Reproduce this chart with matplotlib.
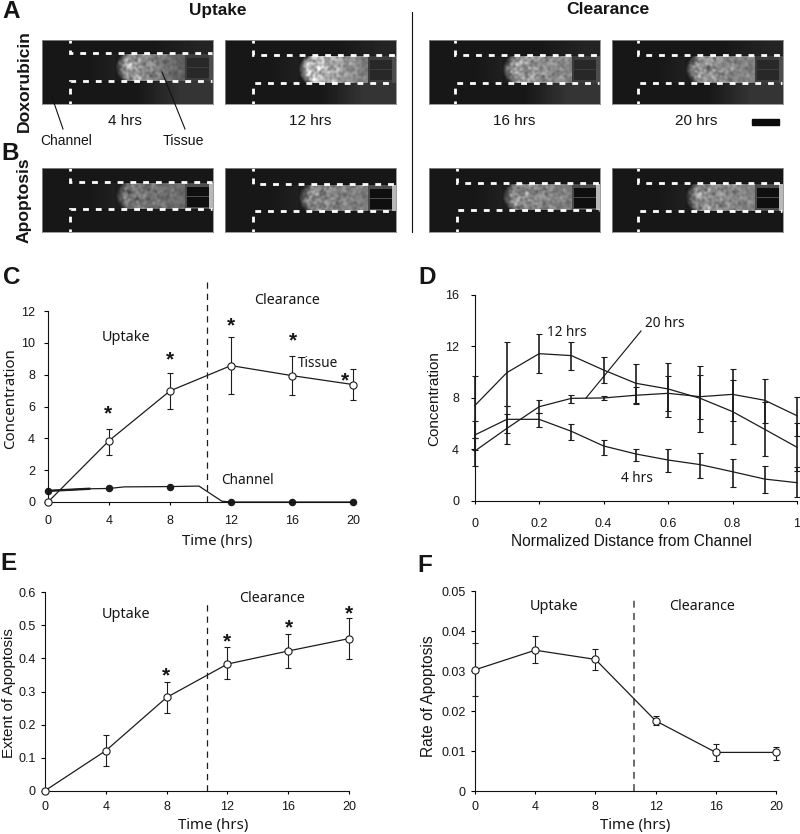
import numpy as np
import matplotlib
matplotlib.use('Agg')
import matplotlib.pyplot as plt

W, H = 800, 834
SANS = 'Liberation Sans'
SOFT = 'Noto Sans'
DARK = '#1c1c1c'

# --- panel C
time = [0, 4, 8, 12, 16, 20]
tissue = [0, 3.85, 6.98, 8.57, 7.94, 7.38]
tissue_hi = [0, 4.6, 8.09, 10.37, 9.2, 8.34]
tissue_lo = [0, 2.97, 5.85, 6.77, 6.7, 6.42]
channel = [0.7, 0.85, 0.97, 0, 0, 0]
channel_line_t = [0, 2.7, 4, 5, 8, 9.9, 11.4, 12, 16, 20]
channel_line_v = [0.7, 0.83, 0.85, 0.95, 0.97, 1.0, 0.05, 0, 0, 0]
c_star_x = [3.9, 8, 12, 16.07, 19.5]
c_star_y = [6.0, 9.35, 11.5, 10.53, 8.03]

# --- panel D
dist = [0, 0.1, 0.2, 0.3, 0.4, 0.5, 0.6, 0.7, 0.8, 0.9, 1]
h12 = [7.38, 9.95, 11.42, 11.27, 10.15, 9.12, 8.68, 7.95, 6.92, 5.54, 4.15]
h12_hi = [9.69, 12.35, 12.95, 12.3, 11.2, 10.62, 10.7, 10.44, 9.38, 7.69, 6.0]
h12_lo = [4.85, 7.36, 9.9, 10.15, 9.12, 7.6, 6.5, 5.31, 4.38, 3.47, 2.33]
h20 = [3.85, 5.62, 7.3, 7.95, 7.98, 8.19, 8.34, 8.08, 8.26, 7.8, 6.6]
h20_hi = [4.85, 6.73, 7.82, 8.2, 8.13, 8.86, 9.69, 9.74, 10.23, 9.48, 8.08]
h20_lo = [2.7, 4.4, 6.79, 7.6, 7.82, 7.49, 6.94, 6.32, 6.22, 6.01, 5.03]
h4 = [5.1, 6.32, 6.32, 5.39, 4.25, 3.63, 3.16, 2.8, 2.25, 1.68, 1.4]
h4_hi = [6.2, 7.36, 6.79, 5.96, 4.71, 4.04, 3.99, 3.73, 3.24, 2.72, 2.59]
h4_lo = [3.94, 5.28, 5.75, 4.71, 3.57, 3.08, 2.2, 1.74, 1.09, 0.62, 0.26]

# --- panel E
extent = [0, 0.121, 0.282, 0.383, 0.4225, 0.46]
extent_hi = [0, 0.168, 0.33, 0.434, 0.475, 0.522]
extent_lo = [0, 0.075, 0.236, 0.337, 0.37, 0.398]
e_star_x = [7.96, 11.96, 16.08, 20]
e_star_y = [0.367, 0.471, 0.513, 0.557]

# --- panel F
rate = [0.0303, 0.0352, 0.0329, 0.01755, 0.00965, 0.00965]
rate_hi = [0.037, 0.0388, 0.0355, 0.0188, 0.0117, 0.0111]
rate_lo = [0.0237, 0.0319, 0.0302, 0.0164, 0.0075, 0.0078]

# --- micrographs: left edge, top edge, wall x, upper wall y, lower wall y, brightness
img_left = [42, 225, 429, 612, 42, 225, 429, 612]
img_top = [40, 40, 40, 40, 168, 168, 168, 168]
img_wall = [28, 28, 26, 26, 28, 28, 28, 26]
img_upper = [13, 15, 15, 15, 14, 16, 15, 15]
img_lower = [40.6, 43, 43, 43, 41, 43, 42, 43]
img_bright = [0.78, 0.98, 0.7, 0.66, 0.5, 0.58, 0.62, 0.64]
img_fade = [0.42, 0.5, 0.8, 0.8, 0.85, 0.9, 0.85, 0.85]
img_time = ['4 hrs', '12 hrs', '16 hrs', '20 hrs']
time_x = [125, 310, 514, 696]

fig = plt.figure(figsize=(W / 100, H / 100), dpi=100)


def px_axes(x0, x1, ytop, ybot):
    return fig.add_axes([x0 / W, 1 - ybot / H, (x1 - x0) / W, (ybot - ytop) / H])


def label(x, y, s, size=10, family=SOFT, **kw):
    kw.setdefault('ha', 'center')
    kw.setdefault('va', 'center')
    fig.text(x / W, 1 - y / H, s, fontsize=size, family=family, color='#151515', **kw)


def leader(x0, y0, x1, y1):
    fig.add_artist(plt.Line2D([x0 / W, x1 / W], [1 - y0 / H, 1 - y1 / H], color='#111111', lw=0.8))


def mottle(xx, yy, shift):
    # irregular cell texture: many smooth waves in different directions
    out = np.zeros(xx.shape)
    for k in range(1, 19):
        ang = k * 2.39996 + shift
        freq = 0.3 + 0.075 * k
        out += np.sin(freq * (xx * np.cos(ang) + yy * np.sin(ang)) + k * k * 0.7) / (1 + 0.1 * k)
    return out / 4.0


def micrograph(ax, index, wall, upper, lower, bright, fade, apoptosis):
    yy, xx = np.mgrid[0:64, 0:171]
    start = 77
    mid = (upper + lower) / 2
    half = (lower - upper) / 2
    img = np.full(xx.shape, 0.09, dtype=float)
    inside = (yy > upper) & (yy < lower)
    if not apoptosis:
        # faint glow outside the channel on the right
        img = img + 0.12 * np.clip((xx - 95) / 45, 0, 1) * (yy >= lower)
        img = img + 0.05 * np.clip((xx - 110) / 45, 0, 1) * (yy <= upper)
    along = np.clip((xx - start) / 68, 0, 1)
    profile = bright * (1 - (1 - fade) * along)
    front = np.clip((xx - start - 7 * ((yy - mid) / half) ** 2 + 4) / 9, 0, 1)
    texture = 0.72 + 0.3 * mottle(xx, yy, index * 0.9) * (1 - 0.6 * along)
    tissue_img = 0.11 + profile * front * texture
    img = np.where(inside, tissue_img, img)
    pre = 0.09 + 0.04 * np.clip((xx - 45) / 30, 0, 1)
    img = np.where(inside & (xx < start - 4), pre, img)
    if apoptosis:
        img = np.where(inside & (xx >= 143), 0.3, img)
        img = np.where(inside & (xx > 166), 0.72, img)
        chamber = 0.06
    else:
        img = np.where(inside & (xx >= 143), 0.24, img)
        img = np.where(inside & (xx > 166), 0.3, img)
        chamber = 0.16
    for a, b in [(upper + 4.5, upper + 13.5), (upper + 15, upper + 24)]:
        img = np.where((xx >= 145) & (xx <= 166) & (yy >= a) & (yy <= b), chamber, img)
    ax.imshow(img, cmap='gray', vmin=0, vmax=1, extent=(0, 171, 64, 0), aspect='auto', interpolation='bilinear')
    dash = dict(color='white', lw=2.0, linestyle=(1.0, (2.1, 2.5)), dash_capstyle='butt', dash_joinstyle='miter')
    ax.plot([wall, wall, 170], [0, upper, upper], **dash)
    ax.plot([wall, wall, 170], [64, lower, lower], **dash)
    ax.set_xlim(0, 171)
    ax.set_ylim(64, 0)
    ax.set_xticks([])
    ax.set_yticks([])
    for sp in ax.spines.values():
        sp.set_color('#8a8a8a')
        sp.set_linewidth(0.6)


for i in range(8):
    ax = px_axes(img_left[i], img_left[i] + 171, img_top[i], img_top[i] + 64)
    micrograph(ax, i, img_wall[i], img_upper[i], img_lower[i], img_bright[i], img_fade[i], i >= 4)

for s, x in zip(img_time, time_x):
    label(x, 121, s, size=11, family=SANS)
label(66, 141, 'Channel', size=10, family=SANS)
label(183, 141, 'Tissue', size=10.2, family=SANS)
leader(52, 97, 63, 129)
leader(162, 72, 185, 129)
label(218, 10, 'Uptake', size=12.4, family=SANS, weight='bold')
label(608, 10, 'Clearance', size=12.6, family=SANS, weight='bold')
label(24, 81, 'Doxorubicin', size=12.6, family=SANS, weight='bold', rotation=90)
label(24, 200, 'Apoptosis', size=12.6, family=SANS, weight='bold', rotation=90)
leader(412, 12, 412, 232)
fig.add_artist(plt.Rectangle((752 / W, 1 - 125 / H), 27 / W, 6 / H, color='#0a0a0a', transform=fig.transFigure))

for s, x, y in [('A', 11, 12), ('B', 10, 153), ('C', 12, 277), ('D', 427, 277), ('E', 9, 563), ('F', 425, 565)]:
    label(x, y, s, size=17.5, family=SANS, weight='bold')


def chart_axes(x0, x1, ytop, ybot, xlim, ylim, xticks, yticks, xlabels, ylabels, ypad, xpad):
    ax = px_axes(x0, x1, ytop, ybot)
    ax.set_xlim(*xlim)
    ax.set_ylim(*ylim)
    ax.set_xticks(xticks, xlabels)
    ax.set_yticks(yticks, ylabels)
    ax.spines['top'].set_visible(False)
    ax.spines['right'].set_visible(False)
    for name in ['left', 'bottom']:
        ax.spines[name].set_linewidth(0.8)
        ax.spines[name].set_color('#111111')
    ax.tick_params(axis='y', length=2.8, width=0.8, pad=ypad, labelsize=9, labelcolor='#151515')
    ax.tick_params(axis='x', length=2.4, width=0.8, pad=xpad, labelsize=9, labelcolor='#151515')
    for t in ax.get_xticklabels() + ax.get_yticklabels():
        t.set_family(SANS)
    ax.patch.set_alpha(0)
    return ax


def err_line(ax, x, y, hi, lo, cap=2.5, ew=0.8, marker=True, zorder=3):
    y = np.array(y)
    yerr = [y - np.array(lo), np.array(hi) - y]
    ax.errorbar(x, y, yerr=yerr, color=DARK, lw=0.9, elinewidth=ew, capsize=cap, capthick=ew,
                marker='o' if marker else None, ms=5.2, mfc='white', mec=DARK, mew=0.8,
                clip_on=False, zorder=zorder)


def stars(ax, xs, ys):
    for x, y in zip(xs, ys):
        ax.annotate('*', (x, y), xytext=(0, -5), textcoords='offset points', ha='center', va='center',
                    fontsize=15, family=SANS, weight='bold', color='#151515', annotation_clip=False)


time_labels = [str(t) for t in time]

# C
ax = chart_axes(48, 353, 311, 502, (0, 20), (0, 12), time, [0, 2, 4, 6, 8, 10, 12], time_labels,
                ['0', '2', '4', '6', '8', '10', '12'], 6.5, 7)
ax.plot(channel_line_t, channel_line_v, color=DARK, lw=0.9, clip_on=False, zorder=2)
ax.plot(channel_line_t[:2], channel_line_v[:2], color=DARK, lw=1.7, clip_on=False, zorder=2)
ax.plot(time, channel, 'o', color=DARK, ms=4.4, clip_on=False, zorder=2)
err_line(ax, time, tissue, tissue_hi, tissue_lo)
stars(ax, c_star_x, c_star_y)
ax.plot([10.43, 10.43], [0, 14.0], color=DARK, lw=0.9, dashes=(5, 4), clip_on=False)
label(125.7, 338, 'Uptake', size=10.4)
label(287, 300, 'Clearance', size=10.2)
label(318, 364, 'Tissue', size=9.8)
label(247, 481, 'Channel', size=9.8)
label(217, 541, 'Time (hrs)', size=10.8)
label(11, 399, 'Concentration', size=10.8, rotation=90)

# D
ax = chart_axes(474.7, 797, 294.7, 500.7, (0, 1), (0, 16), [0, 0.2, 0.4, 0.6, 0.8, 1], [0, 4, 8, 12, 16],
                ['0', '0.2', '0.4', '0.6', '0.8', '1'], ['0', '4', '8', '12', '16'], 8.5, 10)
err_line(ax, dist, h12, h12_hi, h12_lo, cap=2.2, ew=1.2, marker=False)
err_line(ax, dist, h20, h20_hi, h20_lo, cap=2.2, ew=1.2, marker=False)
err_line(ax, dist, h4, h4_hi, h4_lo, cap=2.2, ew=1.2, marker=False)
leader(586, 398, 641, 331)
label(567, 333, '12 hrs', size=9.8)
label(665, 323, '20 hrs', size=9.8)
label(637, 478, '4 hrs', size=9.8)
label(631, 541, 'Normalized Distance from Channel', size=11.2, family=SANS)
label(434, 399, 'Concentration', size=11, family=SANS, rotation=90)

# E
ax = chart_axes(45, 349, 592.3, 790.7, (0, 20), (0, 0.6), time, [0, 0.1, 0.2, 0.3, 0.4, 0.5, 0.6], time_labels,
                ['0', '0.1', '0.2', '0.3', '0.4', '0.5', '0.6'], 4, 5)
err_line(ax, time, extent, extent_hi, extent_lo)
stars(ax, e_star_x, e_star_y)
ax.plot([10.67, 10.67], [0, 0.572], color=DARK, lw=0.9, dashes=(5, 4), clip_on=False)
label(125.7, 614, 'Uptake', size=10.4)
label(271.7, 599, 'Clearance', size=10.2)
label(213, 825.7, 'Time (hrs)', size=10.8)
label(9, 693, 'Extent of Apoptosis', size=11, family=SANS, rotation=90)

# F
ax = chart_axes(475, 776, 591, 791, (0, 20), (0, 0.05), time, [0, 0.01, 0.02, 0.03, 0.04, 0.05], time_labels,
                ['0', '0.01', '0.02', '0.03', '0.04', '0.05'], 4, 5)
err_line(ax, time, rate, rate_hi, rate_lo)
ax.plot([10.55, 10.55], [0, 0.048], color='#444444', lw=1.1, dashes=(4.5, 3.5), clip_on=False)
label(554, 607, 'Uptake', size=10.4)
label(701.7, 607, 'Clearance', size=10.2)
label(635, 826, 'Time (hrs)', size=10.8)
label(428, 696, 'Rate of Apoptosis', size=11.2, family=SANS, rotation=90)

fig.savefig('out.png', dpi=100)
